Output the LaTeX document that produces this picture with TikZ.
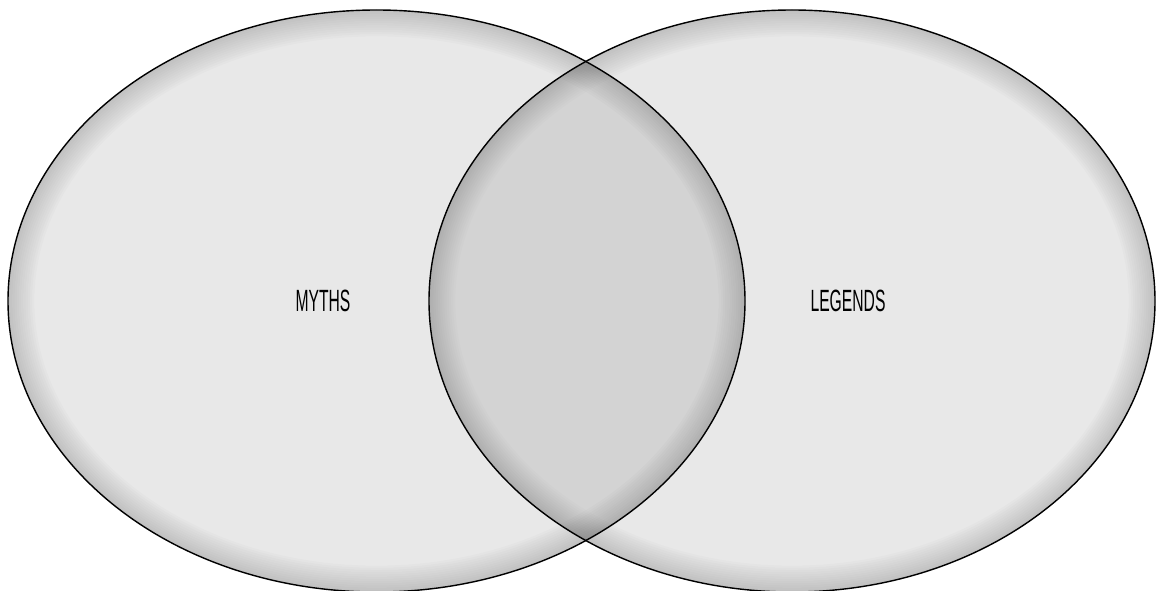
\documentclass[tikz,border=0pt]{standalone}
\usepackage{fontspec}
\setmainfont[FakeStretch=0.51]{Liberation Sans}
\usetikzlibrary{positioning}

\begin{document}
\begin{tikzpicture}[
  setfill/.style={fill=black,fill opacity=0.09},
  rim/.style={draw=black,line width=0.8pt},
  glow/.style={draw=black,draw opacity=0.017},
  setlabel/.style={font=\fontsize{17.5}{20}\selectfont,inner sep=0pt}
]
\useasboundingbox (0,0) rectangle (23.12,11.8);

% Left set
\fill[setfill] (7.53,5.78) ellipse [x radius=7.37cm,y radius=5.82cm];
\begin{scope}
  \clip (7.53,5.78) ellipse [x radius=7.37cm,y radius=5.82cm];
  \foreach \w in {2.5,5,...,30}
    \draw[glow,line width=\w pt] (7.53,5.78) ellipse [x radius=7.37cm,y radius=5.82cm];
\end{scope}

% Right set
\fill[setfill] (15.84,5.78) ellipse [x radius=7.26cm,y radius=5.82cm];
\begin{scope}
  \clip (15.84,5.78) ellipse [x radius=7.26cm,y radius=5.82cm];
  \foreach \w in {2.5,5,...,30}
    \draw[glow,line width=\w pt] (15.84,5.78) ellipse [x radius=7.26cm,y radius=5.82cm];
\end{scope}

% Outlines
\draw[rim] (7.53,5.78) ellipse [x radius=7.37cm,y radius=5.82cm];
\draw[rim] (15.84,5.78) ellipse [x radius=7.26cm,y radius=5.82cm];

% Labels
\node[setlabel] (myths)   at (6.46,5.78)  {MYTHS};
\node[setlabel] (legends) at (16.96,5.78) {LEGENDS};

\end{tikzpicture}
\end{document}
